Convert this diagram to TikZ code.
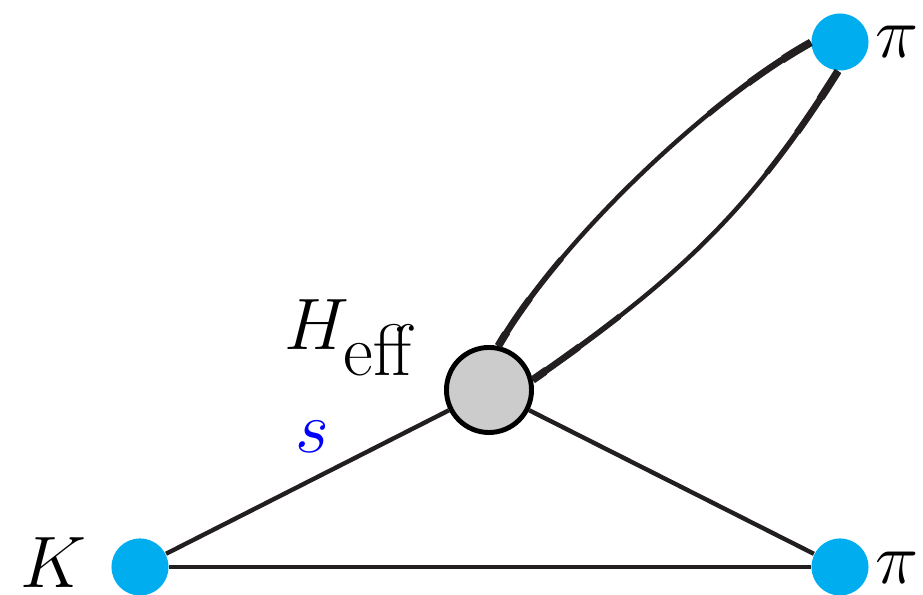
\documentclass[tikz,border=0pt]{standalone}
\usetikzlibrary{positioning}
\definecolor{cLine}{RGB}{35,31,32}
\definecolor{cDot}{RGB}{0,174,239}
\definecolor{cVert}{RGB}{204,204,204}
\begin{document}
\begin{tikzpicture}[x=0.01cm,y=0.01cm,font=\fontsize{20.74}{25}\selectfont,
  dot/.style={circle,fill=cDot,inner sep=0pt,minimum size=5.7mm},
  vert/.style={circle,draw=black,fill=cVert,line width=1.4pt,inner sep=0pt,minimum size=8.5mm},
  prop/.style={draw=cLine,line width=1.25pt},
  bubble/.style={draw=cLine},
  lab/.style={inner sep=0pt,anchor=base}]
  \useasboundingbox (0,0) rectangle (923,595);
  % vertex and external states
  \node[vert] (V) at (489,205) {};
  \node[dot] (K) at (140,28) {};
  \node[dot] (piB) at (840,28) {};
  \node[dot] (piT) at (840,553) {};
  % labels
  \node[lab,anchor=base west] (Hlab) at (284,245) {$H_{\textstyle\mathrm{eff}}$};
  \node[lab,text=blue] (slab) at (312,142) {$s$};
  \node[lab] (Klab) at (53,7) {$K$};
  \node[lab] (piBlab) at (897,11) {$\pi$};
  \node[lab] (piTlab) at (897,537) {$\pi$};
  % triangle
  \draw[prop] (K) -- (V);
  \draw[prop] (V) -- (piB);
  \draw[prop] (K) -- (piB);
  % loop, thicker close to its ends
  \foreach \w/\r in {1.25/10,1.55/1.5,1.85/1.0,2.2/0.6}{
    \begin{scope}
      \clip (V.center) circle[radius=\r cm] (piT.center) circle[radius=\r cm];
      \draw[bubble,line width=\w pt] (V.78) to[out=60,in=209,looseness=0.7] (piT.181)
        (V.13) to[out=35,in=238,looseness=1] (piT.266);
    \end{scope}
  }
\end{tikzpicture}
\end{document}
